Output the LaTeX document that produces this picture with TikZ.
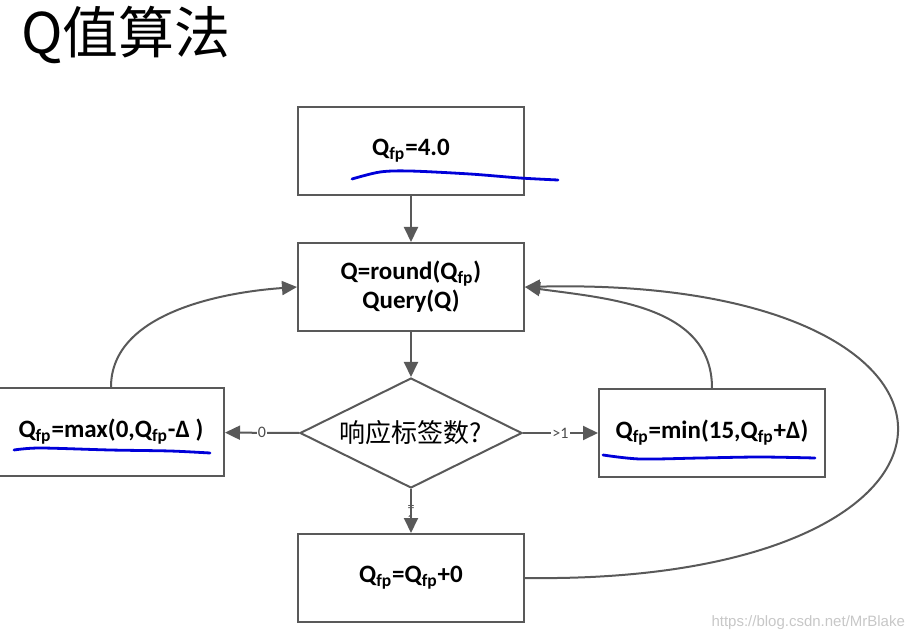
\documentclass[tikz,border=0pt]{standalone}
\usepackage{fontspec}
\setmainfont{Carlito}
\newfontfamily\cjk{Noto Sans CJK SC}
\newfontfamily\wmfont{Liberation Sans}
\usepackage{tikz}
\usetikzlibrary{shapes.geometric,arrows.meta,positioning}

\newcommand{\Qfp}{Q\textsubscript{fp}}

\tikzset{
	linegray/.style={draw=black!65, line width=1pt},
	stepbox/.style={linegray, rectangle, minimum width=113pt, minimum height=44pt,
		font=\fontsize{12.5}{14.5}\selectfont\bfseries, align=center, inner sep=2pt},
	decision/.style={linegray, diamond, aspect=2, minimum width=111pt, minimum height=55pt,
		inner sep=0pt, font=\cjk\fontsize{13}{14}\selectfont},
	flow/.style={linegray, -{Triangle[length=7.5pt,width=7pt]}},
	branch/.style={fill=white, inner sep=0.5pt, text=black!70,
		font=\fontsize{8}{8}\selectfont},
	pen/.style={draw=blue!85!black, line width=1.4pt, line cap=round}
}

\begin{document}
\begin{tikzpicture}[x=0.5pt, y=-0.5pt]
	\useasboundingbox (0,0) rectangle (917,642);

	% title
	\node[anchor=west, font=\cjk\fontsize{28}{30}\selectfont] (title) at (14,35) {Q值算法};

	% boxes
	\node[stepbox] (init)  at (411,151) {\Qfp=4.0};
	\node[stepbox] (query) at (411,287) {Q=round(\Qfp)\\Query(Q)};
	\node[decision] (resp) at (411,433) {响应标签数?};
	\node[stepbox] (dec)   at (111,432) {\Qfp=max(0,\Qfp-Δ )};
	\node[stepbox] (inc)   at (712,433) {\Qfp=min(15,\Qfp+Δ)};
	\node[stepbox] (keep)  at (411,578) {\Qfp=\Qfp+0};

	% straight arrows
	\draw[flow] (init) -- (query);
	\draw[flow] (query) -- (resp);
	\draw[flow] (resp.west) -- node[branch] {0} (dec);
	\draw[flow] (resp.east) -- node[branch] {>1} (inc);
	\node[branch, align=center, font=\fontsize{7}{6}\selectfont] (eq) at (411,514) {=\\1};
	\draw[flow] (resp.south) -- (keep);

	% loops back to query
	\draw[flow] (dec.north) to[out=90, in=184, looseness=0.9] (query.west);
	\draw[flow] (inc.north) to[out=90, in=-8, looseness=1.0] (query.east);
	\draw[flow] (keep.east) .. controls (1020,585) and (1020,275) .. (query.east);

	% hand-drawn underlines
	\draw[pen] plot[smooth] coordinates {(352,179) (380,172) (410,171) (470,174) (520,178) (558,180)};
	\draw[pen] plot[smooth] coordinates {(14,450) (40,448) (110,450) (170,451) (210,453)};
	\draw[pen] plot[smooth] coordinates {(603,455) (640,459) (700,458) (760,457) (815,458)};

	% watermark
	\node[anchor=east, text=black!22, font=\wmfont\fontsize{7.5}{8}\selectfont] (mark) at (912,623) {https://blog.csdn.net/MrBlake};
\end{tikzpicture}
\end{document}
